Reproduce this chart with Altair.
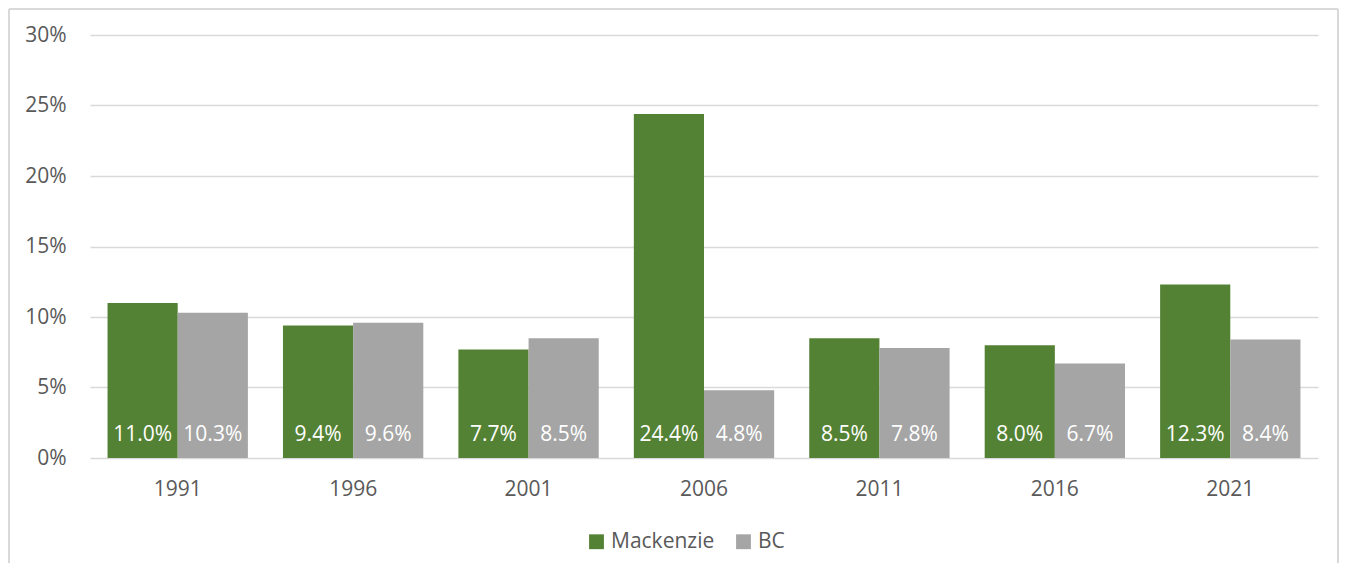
import altair as alt
import pandas as pd

years = ["1991", "1996", "2001", "2006", "2011", "2016", "2021"]
series = ["Mackenzie", "BC"]
mackenzie = [11.0, 9.4, 7.7, 24.4, 8.5, 8.0, 12.3]
bc = [10.3, 9.6, 8.5, 4.8, 7.8, 6.7, 8.4]
colors = ["#548235", "#A5A5A5"]

rows = []
for i, y in enumerate(years):
    rows.append({"year": y, "series": "Mackenzie", "value": mackenzie[i] / 100})
    rows.append({"year": y, "series": "BC", "value": bc[i] / 100})
df = pd.DataFrame(rows)

FONT = "Open Sans"
FS = 21
W, H = 1228, 423

x = alt.X("year:N", sort=years, title=None,
          scale=alt.Scale(paddingInner=0.2, paddingOuter=0.1),
          axis=alt.Axis(labelAngle=0, ticks=False, domain=False, labelPadding=20,
                        labelFontSize=FS, labelColor="#595959", labelFont=FONT))
xo = alt.XOffset("series:N", sort=series, scale=alt.Scale(paddingInner=0))

bars = alt.Chart(df).mark_bar().encode(
    x=x,
    xOffset=xo,
    y=alt.Y("value:Q", title=None,
            scale=alt.Scale(domain=[0, 0.3], nice=False),
            axis=alt.Axis(format=".0%", values=[0, 0.05, 0.1, 0.15, 0.2, 0.25, 0.3],
                          domain=False, ticks=False, labelPadding=24,
                          labelFontSize=FS, labelColor="#595959", labelFont=FONT,
                          gridColor="#D9D9D9", gridWidth=1.5)),
    color=alt.Color("series:N", sort=series,
                    scale=alt.Scale(domain=series, range=colors),
                    legend=alt.Legend(title=None, orient="none", direction="horizontal",
                                      legendX=496, legendY=496, symbolType="square",
                                      symbolSize=220, symbolStrokeWidth=0,
                                      labelFontSize=FS, labelColor="#595959", labelFont=FONT,
                                      columnPadding=18, symbolOffset=0)),
)

labels = alt.Chart(df).mark_text(color="white", fontSize=FS, font=FONT,
                                 baseline="alphabetic", dy=-17).encode(
    x=x,
    xOffset=xo,
    y=alt.value(H),
    text=alt.Text("value:Q", format=".1%"),
)

frame_df = pd.DataFrame({"k": [0]})
left = alt.Chart(frame_df).mark_rule(color="#D9D9D9", strokeWidth=2).encode(
    x=alt.value(-81), y=alt.value(-26), y2=alt.value(H + 110))
right = alt.Chart(frame_df).mark_rule(color="#D9D9D9", strokeWidth=2).encode(
    x=alt.value(1248), y=alt.value(-26), y2=alt.value(H + 110))
top = alt.Chart(frame_df).mark_rule(color="#D9D9D9", strokeWidth=2).encode(
    x=alt.value(-81), x2=alt.value(1248), y=alt.value(-26))

chart = alt.layer(bars, labels, left, right, top).properties(
    width=W, height=H,
    padding={"left": 82, "top": 27, "right": 22, "bottom": 105},
    autosize=alt.AutoSizeParams(type="none"),
).configure(font=FONT, view=alt.ViewConfig(stroke=None))

chart.save("out.html", embed_options={"renderer": "svg", "actions": False})
